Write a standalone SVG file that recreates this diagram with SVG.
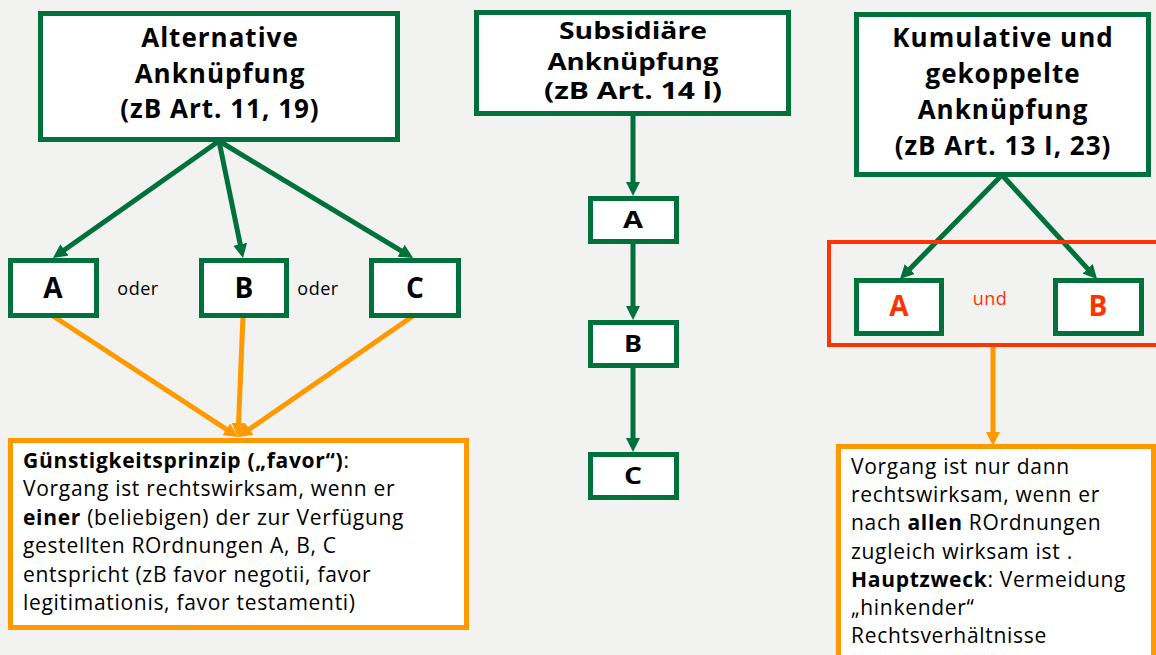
<svg xmlns="http://www.w3.org/2000/svg" width="1156" height="655" viewBox="0 0 1156 655">
<defs>
<style>
.g{fill:#ffffff;stroke:#00703c;stroke-width:5}
.o{fill:#ffffff;stroke:#ff9900;stroke-width:5}
.r{fill:none;stroke:#ff3300;stroke-width:4}
.t{font-family:"Open Sans","Noto Sans","DejaVu Sans",sans-serif;fill:#000000}
.h{font-size:26px;font-weight:bold;text-anchor:middle;letter-spacing:1px}
.h2{font-size:23px;font-weight:bold;text-anchor:middle}
.l{font-size:28px;font-weight:bold;text-anchor:middle}
.l2{font-size:23px;font-weight:bold;text-anchor:middle}
.s{font-size:18px;text-anchor:middle;letter-spacing:0.5px}
.p{font-size:21px;letter-spacing:0.7px}
.b{font-weight:bold}
.red{fill:#ff3300}
.cg{fill:none;stroke:#00703c;stroke-width:5}
.co{fill:none;stroke:#ff9900;stroke-width:5}
</style>
<marker id="ag" viewBox="0 0 10 10" refX="5.7" refY="5" markerWidth="14" markerHeight="14" markerUnits="userSpaceOnUse" orient="auto">
<path d="M0,0 L10,5 L0,10 z" fill="#00703c"/>
</marker>
<marker id="ao" viewBox="0 0 10 10" refX="5.7" refY="5" markerWidth="14" markerHeight="14" markerUnits="userSpaceOnUse" orient="auto">
<path d="M0,0 L10,5 L0,10 z" fill="#ff9900"/>
</marker>
</defs>
<rect x="0" y="0" width="1156" height="655" fill="#f2f2f0"/>

<g id="connectors">
<line class="cg" x1="219" y1="141" x2="57.9" y2="254.5" marker-end="url(#ag)"/>
<line class="cg" x1="219" y1="141" x2="241.8" y2="252.1" marker-end="url(#ag)"/>
<line class="cg" x1="219" y1="141" x2="407.9" y2="254.9" marker-end="url(#ag)"/>
<line class="cg" x1="633" y1="114" x2="633" y2="190" marker-end="url(#ag)"/>
<line class="cg" x1="633" y1="242" x2="633" y2="314" marker-end="url(#ag)"/>
<line class="cg" x1="633" y1="366" x2="633" y2="446" marker-end="url(#ag)"/>
<line class="cg" x1="1002" y1="175" x2="904.2" y2="274.7" marker-end="url(#ag)"/>
<line class="cg" x1="1002" y1="175" x2="1093" y2="274.6" marker-end="url(#ag)"/>
<line class="co" x1="53" y1="316" x2="233" y2="433.7" marker-end="url(#ao)"/>
<line class="co" x1="243" y1="316" x2="238.25" y2="431" marker-end="url(#ao)"/>
<line class="co" x1="413" y1="316" x2="242.9" y2="433.6" marker-end="url(#ao)"/>
<line class="co" x1="993" y1="347" x2="993" y2="440" marker-end="url(#ao)"/>
</g>

<g id="alt">
<rect class="g" x="40.5" y="13.5" width="357" height="126"/>
<text class="t h" x="220" y="47">Alternative</text>
<text class="t h" x="220" y="83">Anknüpfung</text>
<text class="t h" x="220" y="118">(zB Art. 11, 19)</text>
</g>
<g id="alt-a">
<rect class="g" x="10.5" y="260.5" width="86" height="55"/>
<text class="t l" x="53" y="298">A</text>
</g>
<text class="t s" x="138" y="295">oder</text>
<g id="alt-b">
<rect class="g" x="201.5" y="260.5" width="85" height="55"/>
<text class="t l" x="244" y="298">B</text>
</g>
<text class="t s" x="318" y="295">oder</text>
<g id="alt-c">
<rect class="g" x="371.5" y="260.5" width="87" height="55"/>
<text class="t l" x="415" y="298">C</text>
</g>
<g id="favor">
<rect class="o" x="10.5" y="440.5" width="456" height="187"/>
<text class="t p" x="23" y="468"><tspan class="b">Günstigkeitsprinzip („favor“)</tspan>:</text>
<text class="t p" x="23" y="496">Vorgang ist rechtswirksam, wenn er</text>
<text class="t p" x="23" y="525"><tspan class="b">einer</tspan> (beliebigen) der zur Verfügung</text>
<text class="t p" x="23" y="553">gestellten ROrdnungen A, B, C</text>
<text class="t p" x="23" y="582">entspricht (zB favor negotii, favor</text>
<text class="t p" x="23" y="610">legitimationis, favor testamenti)</text>
</g>

<g id="sub">
<rect class="g" x="476.5" y="12.5" width="312" height="101"/>
<text class="t h2" x="633" y="39" textLength="148" lengthAdjust="spacingAndGlyphs">Subsidiäre</text>
<text class="t h2" x="633" y="70" textLength="171" lengthAdjust="spacingAndGlyphs">Anknüpfung</text>
<text class="t h2" x="633" y="99" textLength="178" lengthAdjust="spacingAndGlyphs">(zB Art. 14 l)</text>
</g>
<g id="sub-a">
<rect class="g" x="590.5" y="198.5" width="86" height="43"/>
<text class="t l2" x="633" y="228" textLength="20" lengthAdjust="spacingAndGlyphs">A</text>
</g>
<g id="sub-b">
<rect class="g" x="590.5" y="322.5" width="86" height="43"/>
<text class="t l2" x="633" y="352" textLength="18" lengthAdjust="spacingAndGlyphs">B</text>
</g>
<g id="sub-c">
<rect class="g" x="590.5" y="454.5" width="86" height="43"/>
<text class="t l2" x="633" y="484" textLength="18" lengthAdjust="spacingAndGlyphs">C</text>
</g>

<g id="kum">
<rect class="g" x="856.5" y="14.5" width="292" height="160"/>
<text class="t h" x="1003" y="47">Kumulative und</text>
<text class="t h" x="1003" y="83">gekoppelte</text>
<text class="t h" x="1003" y="119">Anknüpfung</text>
<text class="t h" x="1003" y="155">(zB Art. 13 I, 23)</text>
</g>
<g id="kum-group">
<rect class="r" x="829" y="242" width="335" height="103"/>
</g>
<g id="kum-a">
<rect class="g" x="856.5" y="280.5" width="85" height="53"/>
<text class="t l red" x="899" y="316">A</text>
</g>
<text class="t s red" x="990" y="305" font-size="16">und</text>
<g id="kum-b">
<rect class="g" x="1055.5" y="280.5" width="86" height="53"/>
<text class="t l red" x="1098" y="316">B</text>
</g>
<g id="kum-note">
<rect class="o" x="838.5" y="446.5" width="315" height="220"/>
<text class="t p" x="851" y="474">Vorgang ist nur dann</text>
<text class="t p" x="851" y="502">rechtswirksam, wenn er</text>
<text class="t p" x="851" y="530">nach <tspan class="b">allen</tspan> ROrdnungen</text>
<text class="t p" x="851" y="559">zugleich wirksam ist .</text>
<text class="t p" x="851" y="587"><tspan class="b">Hauptzweck</tspan>: Vermeidung</text>
<text class="t p" x="851" y="615">„hinkender“</text>
<text class="t p" x="851" y="643">Rechtsverhältnisse</text>
</g>
</svg>
